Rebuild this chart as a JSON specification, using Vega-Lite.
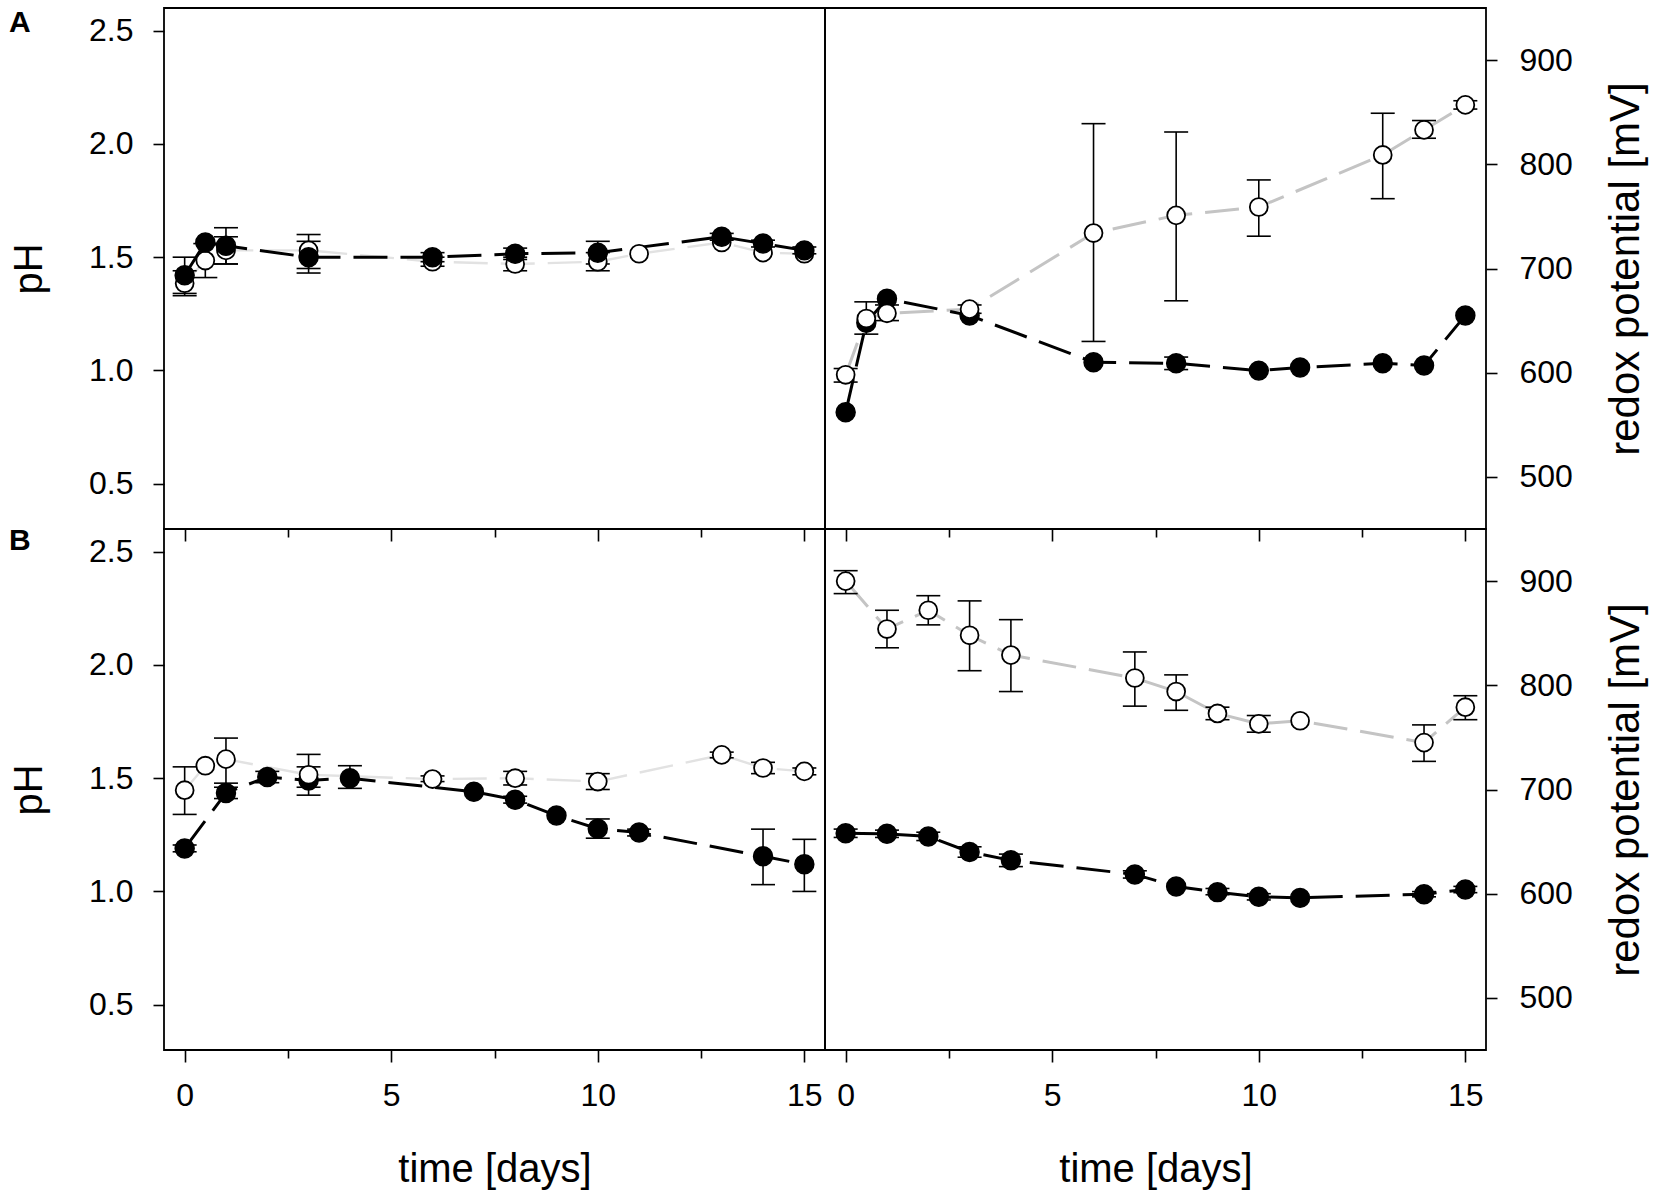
{
  "$schema": "https://vega.github.io/schema/vega-lite/v6.json",
  "background": "white",
  "padding": {"left": 8, "top": 7, "right": 5, "bottom": 5},
  "config": {
    "view": {"stroke": "black", "strokeWidth": 1.8},
    "font": "Liberation Sans",
    "axis": {
      "grid": false, "domain": false,
      "labelFont": "Liberation Sans", "labelFontSize": 32, "labelColor": "black",
      "titleFont": "Liberation Sans", "titleFontSize": 40, "titleFontWeight": "normal", "titleColor": "black",
      "tickColor": "black", "tickWidth": 1.6
    }
  },
  "datasets": {
    "obs": [
      {"p": "A", "m": "pH", "s": "filled", "day": 0, "v": 1.42, "lo": 1.34, "hi": 1.5},
      {"p": "A", "m": "pH", "s": "filled", "day": 0.5, "v": 1.565, "lo": null, "hi": null},
      {"p": "A", "m": "pH", "s": "filled", "day": 1, "v": 1.55, "lo": 1.47, "hi": 1.63},
      {"p": "A", "m": "pH", "s": "filled", "day": 3, "v": 1.5, "lo": 1.43, "hi": 1.57},
      {"p": "A", "m": "pH", "s": "filled", "day": 6, "v": 1.5, "lo": 1.48, "hi": 1.52},
      {"p": "A", "m": "pH", "s": "filled", "day": 8, "v": 1.515, "lo": 1.49, "hi": 1.54},
      {"p": "A", "m": "pH", "s": "filled", "day": 10, "v": 1.52, "lo": 1.47, "hi": 1.57},
      {"p": "A", "m": "pH", "s": "filled", "day": 13, "v": 1.59, "lo": 1.575, "hi": 1.605},
      {"p": "A", "m": "pH", "s": "filled", "day": 14, "v": 1.56, "lo": 1.545, "hi": 1.575},
      {"p": "A", "m": "pH", "s": "filled", "day": 15, "v": 1.53, "lo": 1.515, "hi": 1.545},
      {"p": "A", "m": "pH", "s": "open", "day": 0, "v": 1.385, "lo": 1.33, "hi": 1.44},
      {"p": "A", "m": "pH", "s": "open", "day": 0.5, "v": 1.485, "lo": 1.41, "hi": 1.56},
      {"p": "A", "m": "pH", "s": "open", "day": 1, "v": 1.53, "lo": 1.47, "hi": 1.59},
      {"p": "A", "m": "pH", "s": "open", "day": 3, "v": 1.53, "lo": 1.45, "hi": 1.6},
      {"p": "A", "m": "pH", "s": "open", "day": 6, "v": 1.48, "lo": 1.46, "hi": 1.5},
      {"p": "A", "m": "pH", "s": "open", "day": 8, "v": 1.47, "lo": 1.44, "hi": 1.5},
      {"p": "A", "m": "pH", "s": "open", "day": 10, "v": 1.48, "lo": 1.44, "hi": 1.52},
      {"p": "A", "m": "pH", "s": "open", "day": 11, "v": 1.515, "lo": null, "hi": null},
      {"p": "A", "m": "pH", "s": "open", "day": 13, "v": 1.565, "lo": null, "hi": null},
      {"p": "A", "m": "pH", "s": "open", "day": 14, "v": 1.52, "lo": null, "hi": null},
      {"p": "A", "m": "pH", "s": "open", "day": 15, "v": 1.515, "lo": null, "hi": null},

      {"p": "A", "m": "redox", "s": "filled", "day": 0, "v": 562, "lo": null, "hi": null},
      {"p": "A", "m": "redox", "s": "filled", "day": 0.5, "v": 648, "lo": null, "hi": null},
      {"p": "A", "m": "redox", "s": "filled", "day": 1, "v": 671, "lo": null, "hi": null},
      {"p": "A", "m": "redox", "s": "filled", "day": 3, "v": 655, "lo": null, "hi": null},
      {"p": "A", "m": "redox", "s": "filled", "day": 6, "v": 610, "lo": null, "hi": null},
      {"p": "A", "m": "redox", "s": "filled", "day": 8, "v": 609, "lo": 603, "hi": 615},
      {"p": "A", "m": "redox", "s": "filled", "day": 10, "v": 602, "lo": null, "hi": null},
      {"p": "A", "m": "redox", "s": "filled", "day": 11, "v": 605, "lo": null, "hi": null},
      {"p": "A", "m": "redox", "s": "filled", "day": 13, "v": 609, "lo": null, "hi": null},
      {"p": "A", "m": "redox", "s": "filled", "day": 14, "v": 607, "lo": null, "hi": null},
      {"p": "A", "m": "redox", "s": "filled", "day": 15, "v": 655, "lo": null, "hi": null},
      {"p": "A", "m": "redox", "s": "open", "day": 0, "v": 598, "lo": 591, "hi": 604},
      {"p": "A", "m": "redox", "s": "open", "day": 0.5, "v": 652, "lo": 637, "hi": 668},
      {"p": "A", "m": "redox", "s": "open", "day": 1, "v": 657, "lo": 650, "hi": 665},
      {"p": "A", "m": "redox", "s": "open", "day": 3, "v": 661, "lo": 657, "hi": 665},
      {"p": "A", "m": "redox", "s": "open", "day": 6, "v": 734, "lo": 630, "hi": 839},
      {"p": "A", "m": "redox", "s": "open", "day": 8, "v": 751, "lo": 669, "hi": 831},
      {"p": "A", "m": "redox", "s": "open", "day": 10, "v": 759, "lo": 731, "hi": 785},
      {"p": "A", "m": "redox", "s": "open", "day": 13, "v": 809, "lo": 767, "hi": 849},
      {"p": "A", "m": "redox", "s": "open", "day": 14, "v": 833, "lo": 825, "hi": 842},
      {"p": "A", "m": "redox", "s": "open", "day": 15, "v": 857, "lo": 853, "hi": 861},

      {"p": "B", "m": "pH", "s": "filled", "day": 0, "v": 1.19, "lo": 1.175, "hi": 1.205},
      {"p": "B", "m": "pH", "s": "filled", "day": 1, "v": 1.435, "lo": 1.41, "hi": 1.46},
      {"p": "B", "m": "pH", "s": "filled", "day": 2, "v": 1.505, "lo": 1.48, "hi": 1.53},
      {"p": "B", "m": "pH", "s": "filled", "day": 3, "v": 1.49, "lo": 1.425, "hi": 1.55},
      {"p": "B", "m": "pH", "s": "filled", "day": 4, "v": 1.5, "lo": 1.455, "hi": 1.555},
      {"p": "B", "m": "pH", "s": "filled", "day": 7, "v": 1.44, "lo": null, "hi": null},
      {"p": "B", "m": "pH", "s": "filled", "day": 8, "v": 1.405, "lo": 1.39, "hi": 1.42},
      {"p": "B", "m": "pH", "s": "filled", "day": 9, "v": 1.335, "lo": null, "hi": null},
      {"p": "B", "m": "pH", "s": "filled", "day": 10, "v": 1.277, "lo": 1.235, "hi": 1.32},
      {"p": "B", "m": "pH", "s": "filled", "day": 11, "v": 1.26, "lo": 1.245, "hi": 1.275},
      {"p": "B", "m": "pH", "s": "filled", "day": 14, "v": 1.155, "lo": 1.03, "hi": 1.275},
      {"p": "B", "m": "pH", "s": "filled", "day": 15, "v": 1.12, "lo": 1.0, "hi": 1.23},
      {"p": "B", "m": "pH", "s": "open", "day": 0, "v": 1.447, "lo": 1.34, "hi": 1.55},
      {"p": "B", "m": "pH", "s": "open", "day": 0.5, "v": 1.555, "lo": null, "hi": null},
      {"p": "B", "m": "pH", "s": "open", "day": 1, "v": 1.584, "lo": 1.478, "hi": 1.677},
      {"p": "B", "m": "pH", "s": "open", "day": 3, "v": 1.515, "lo": 1.46, "hi": 1.605},
      {"p": "B", "m": "pH", "s": "open", "day": 6, "v": 1.496, "lo": 1.485, "hi": 1.51},
      {"p": "B", "m": "pH", "s": "open", "day": 8, "v": 1.5, "lo": 1.47, "hi": 1.53},
      {"p": "B", "m": "pH", "s": "open", "day": 10, "v": 1.485, "lo": 1.45, "hi": 1.52},
      {"p": "B", "m": "pH", "s": "open", "day": 13, "v": 1.603, "lo": 1.59, "hi": 1.615},
      {"p": "B", "m": "pH", "s": "open", "day": 14, "v": 1.545, "lo": 1.52, "hi": 1.57},
      {"p": "B", "m": "pH", "s": "open", "day": 15, "v": 1.53, "lo": 1.515, "hi": 1.545},

      {"p": "B", "m": "redox", "s": "filled", "day": 0, "v": 658, "lo": 654, "hi": 662},
      {"p": "B", "m": "redox", "s": "filled", "day": 1, "v": 657.5, "lo": 654, "hi": 661},
      {"p": "B", "m": "redox", "s": "filled", "day": 2, "v": 655, "lo": 651, "hi": 659},
      {"p": "B", "m": "redox", "s": "filled", "day": 3, "v": 640, "lo": 635, "hi": 645},
      {"p": "B", "m": "redox", "s": "filled", "day": 4, "v": 632, "lo": 626, "hi": 638},
      {"p": "B", "m": "redox", "s": "filled", "day": 7, "v": 618.5, "lo": 615, "hi": 622},
      {"p": "B", "m": "redox", "s": "filled", "day": 8, "v": 607, "lo": null, "hi": null},
      {"p": "B", "m": "redox", "s": "filled", "day": 9, "v": 601.5, "lo": 599, "hi": 605},
      {"p": "B", "m": "redox", "s": "filled", "day": 10, "v": 597, "lo": 594, "hi": 600},
      {"p": "B", "m": "redox", "s": "filled", "day": 11, "v": 596, "lo": null, "hi": null},
      {"p": "B", "m": "redox", "s": "filled", "day": 14, "v": 599.5, "lo": 597, "hi": 602},
      {"p": "B", "m": "redox", "s": "filled", "day": 15, "v": 604, "lo": 601, "hi": 607},
      {"p": "B", "m": "redox", "s": "open", "day": 0, "v": 900, "lo": 888, "hi": 910},
      {"p": "B", "m": "redox", "s": "open", "day": 1, "v": 854, "lo": 836, "hi": 872},
      {"p": "B", "m": "redox", "s": "open", "day": 2, "v": 872, "lo": 858, "hi": 886},
      {"p": "B", "m": "redox", "s": "open", "day": 3, "v": 848, "lo": 814, "hi": 881},
      {"p": "B", "m": "redox", "s": "open", "day": 4, "v": 829, "lo": 794, "hi": 863},
      {"p": "B", "m": "redox", "s": "open", "day": 7, "v": 807, "lo": 780, "hi": 832},
      {"p": "B", "m": "redox", "s": "open", "day": 8, "v": 794, "lo": 776, "hi": 810},
      {"p": "B", "m": "redox", "s": "open", "day": 9, "v": 773, "lo": 767, "hi": 779},
      {"p": "B", "m": "redox", "s": "open", "day": 10, "v": 763, "lo": 755, "hi": 771},
      {"p": "B", "m": "redox", "s": "open", "day": 11, "v": 766, "lo": null, "hi": null},
      {"p": "B", "m": "redox", "s": "open", "day": 14, "v": 745, "lo": 727, "hi": 762},
      {"p": "B", "m": "redox", "s": "open", "day": 15, "v": 779, "lo": 767, "hi": 790}
    ]
  },
  "columns": 2,
  "spacing": 0,
  "bounds": "flush",
  "concat": [
    {
      "width": 661, "height": 521,
      "data": {"name": "obs"},
      "title": {"text": "A", "orient": "top", "anchor": "start", "frame": "group", "dx": -155, "dy": 54, "offset": 0, "baseline": "alphabetic", "font": "Liberation Sans", "fontSize": 30, "fontWeight": "bold", "color": "black"},
      "transform": [{"filter": "datum.p == 'A' && datum.m == 'pH'"}],
      "resolve": {"axis": {"x": "independent"}},
      "layer": [
        {
          "transform": [{"filter": "datum.s == 'open'"}],
          "mark": {"type": "line", "color": "#e2e2e2", "strokeWidth": 2.4, "strokeDash": [34, 13]},
          "encoding": {
            "x": {"field": "day", "type": "quantitative", "scale": {"domain": [-0.5, 15.5], "nice": false, "zero": false},
                  "axis": {"orient": "bottom", "values": [0, 5, 10, 15], "labels": false, "tickSize": 12, "title": null}},
            "y": {"field": "v", "type": "quantitative", "scale": {"domain": [0.3, 2.6], "nice": false, "zero": false},
                  "axis": {"values": [0.5, 1, 1.5, 2, 2.5], "format": ".1f", "tickSize": 11, "labelPadding": 20, "title": "pH", "titlePadding": 39}}
          }
        },
        {
          "transform": [{"filter": "datum.s == 'filled'"}],
          "mark": {"type": "line", "color": "black", "strokeWidth": 3, "strokeDash": [34, 13]},
          "encoding": {
            "x": {"field": "day", "type": "quantitative", "axis": {"orient": "bottom", "values": [2.5, 7.5, 12.5], "labels": false, "tickSize": 8, "title": null}},
            "y": {"field": "v", "type": "quantitative"}
          }
        },
        {
          "mark": {"type": "rule", "color": "black", "strokeWidth": 1.6},
          "encoding": {
            "x": {"field": "day", "type": "quantitative", "axis": null},
            "y": {"field": "lo", "type": "quantitative"},
            "y2": {"field": "hi"}
          }
        },
        {
          "mark": {"type": "tick", "orient": "horizontal", "color": "black", "size": 24, "thickness": 1.6, "opacity": 1},
          "encoding": {
            "x": {"field": "day", "type": "quantitative", "axis": null},
            "y": {"field": "lo", "type": "quantitative"}
          }
        },
        {
          "mark": {"type": "tick", "orient": "horizontal", "color": "black", "size": 24, "thickness": 1.6, "opacity": 1},
          "encoding": {
            "x": {"field": "day", "type": "quantitative", "axis": null},
            "y": {"field": "hi", "type": "quantitative"}
          }
        },
        {
          "transform": [{"filter": "datum.s == 'open'"}],
          "mark": {"type": "circle", "fill": "white", "stroke": "black", "strokeWidth": 1.8, "size": 320, "opacity": 1},
          "encoding": {
            "x": {"field": "day", "type": "quantitative", "axis": null},
            "y": {"field": "v", "type": "quantitative"}
          }
        },
        {
          "transform": [{"filter": "datum.s == 'filled'"}],
          "mark": {"type": "circle", "fill": "black", "stroke": "black", "strokeWidth": 1.5, "size": 360, "opacity": 1},
          "encoding": {
            "x": {"field": "day", "type": "quantitative", "axis": null},
            "y": {"field": "v", "type": "quantitative"}
          }
        }
      ]
    },
    {
      "width": 661, "height": 521,
      "data": {"name": "obs"},
      "transform": [{"filter": "datum.p == 'A' && datum.m == 'redox'"}],
      "resolve": {"axis": {"x": "independent"}},
      "layer": [
        {
          "transform": [{"filter": "datum.s == 'open'"}],
          "mark": {"type": "line", "color": "#c4c4c4", "strokeWidth": 3, "strokeDash": [34, 13]},
          "encoding": {
            "x": {"field": "day", "type": "quantitative", "scale": {"domain": [-0.5, 15.5], "nice": false, "zero": false},
                  "axis": {"orient": "bottom", "values": [0, 5, 10, 15], "labels": false, "tickSize": 12, "title": null}},
            "y": {"field": "v", "type": "quantitative", "scale": {"domain": [450, 950], "nice": false, "zero": false},
                  "axis": {"orient": "right", "values": [500, 600, 700, 800, 900], "tickSize": 11, "labelPadding": 22, "title": "redox potential [mV]", "titleFontSize": 42, "titlePadding": 33, "titleAngle": 270, "titleBaseline": "top"}}
          }
        },
        {
          "transform": [{"filter": "datum.s == 'filled'"}],
          "mark": {"type": "line", "color": "black", "strokeWidth": 3, "strokeDash": [34, 13]},
          "encoding": {
            "x": {"field": "day", "type": "quantitative", "axis": {"orient": "bottom", "values": [2.5, 7.5, 12.5], "labels": false, "tickSize": 8, "title": null}},
            "y": {"field": "v", "type": "quantitative"}
          }
        },
        {
          "mark": {"type": "rule", "color": "black", "strokeWidth": 1.6},
          "encoding": {
            "x": {"field": "day", "type": "quantitative", "axis": null},
            "y": {"field": "lo", "type": "quantitative"},
            "y2": {"field": "hi"}
          }
        },
        {
          "mark": {"type": "tick", "orient": "horizontal", "color": "black", "size": 24, "thickness": 1.6, "opacity": 1},
          "encoding": {
            "x": {"field": "day", "type": "quantitative", "axis": null},
            "y": {"field": "lo", "type": "quantitative"}
          }
        },
        {
          "mark": {"type": "tick", "orient": "horizontal", "color": "black", "size": 24, "thickness": 1.6, "opacity": 1},
          "encoding": {
            "x": {"field": "day", "type": "quantitative", "axis": null},
            "y": {"field": "hi", "type": "quantitative"}
          }
        },
        {
          "transform": [{"filter": "datum.s == 'filled'"}],
          "mark": {"type": "circle", "fill": "black", "stroke": "black", "strokeWidth": 1.5, "size": 360, "opacity": 1},
          "encoding": {
            "x": {"field": "day", "type": "quantitative", "axis": null},
            "y": {"field": "v", "type": "quantitative"}
          }
        },
        {
          "transform": [{"filter": "datum.s == 'open'"}],
          "mark": {"type": "circle", "fill": "white", "stroke": "black", "strokeWidth": 1.8, "size": 320, "opacity": 1},
          "encoding": {
            "x": {"field": "day", "type": "quantitative", "axis": null},
            "y": {"field": "v", "type": "quantitative"}
          }
        }
      ]
    },
    {
      "width": 661, "height": 521,
      "data": {"name": "obs"},
      "title": {"text": "B", "orient": "top", "anchor": "start", "frame": "group", "dx": -155, "dy": 51, "offset": 0, "baseline": "alphabetic", "font": "Liberation Sans", "fontSize": 30, "fontWeight": "bold", "color": "black"},
      "transform": [{"filter": "datum.p == 'B' && datum.m == 'pH'"}],
      "resolve": {"axis": {"x": "independent"}},
      "layer": [
        {
          "transform": [{"filter": "datum.s == 'open'"}],
          "mark": {"type": "line", "color": "#e2e2e2", "strokeWidth": 2.4, "strokeDash": [34, 13]},
          "encoding": {
            "x": {"field": "day", "type": "quantitative", "scale": {"domain": [-0.5, 15.5], "nice": false, "zero": false},
                  "axis": {"orient": "bottom", "values": [0, 5, 10, 15], "tickSize": 12, "labelPadding": 18, "title": "time [days]", "titlePadding": 38}},
            "y": {"field": "v", "type": "quantitative", "scale": {"domain": [0.3, 2.6], "nice": false, "zero": false},
                  "axis": {"values": [0.5, 1, 1.5, 2, 2.5], "format": ".1f", "tickSize": 11, "labelPadding": 20, "title": "pH", "titlePadding": 39}}
          }
        },
        {
          "transform": [{"filter": "datum.s == 'filled'"}],
          "mark": {"type": "line", "color": "black", "strokeWidth": 3, "strokeDash": [34, 13]},
          "encoding": {
            "x": {"field": "day", "type": "quantitative", "axis": {"orient": "bottom", "values": [2.5, 7.5, 12.5], "labels": false, "tickSize": 8, "title": null}},
            "y": {"field": "v", "type": "quantitative"}
          }
        },
        {
          "mark": {"type": "rule", "color": "black", "strokeWidth": 1.6},
          "encoding": {
            "x": {"field": "day", "type": "quantitative", "axis": null},
            "y": {"field": "lo", "type": "quantitative"},
            "y2": {"field": "hi"}
          }
        },
        {
          "mark": {"type": "tick", "orient": "horizontal", "color": "black", "size": 24, "thickness": 1.6, "opacity": 1},
          "encoding": {
            "x": {"field": "day", "type": "quantitative", "axis": null},
            "y": {"field": "lo", "type": "quantitative"}
          }
        },
        {
          "mark": {"type": "tick", "orient": "horizontal", "color": "black", "size": 24, "thickness": 1.6, "opacity": 1},
          "encoding": {
            "x": {"field": "day", "type": "quantitative", "axis": null},
            "y": {"field": "hi", "type": "quantitative"}
          }
        },
        {
          "transform": [{"filter": "datum.s == 'filled'"}],
          "mark": {"type": "circle", "fill": "black", "stroke": "black", "strokeWidth": 1.5, "size": 360, "opacity": 1},
          "encoding": {
            "x": {"field": "day", "type": "quantitative", "axis": null},
            "y": {"field": "v", "type": "quantitative"}
          }
        },
        {
          "transform": [{"filter": "datum.s == 'open'"}],
          "mark": {"type": "circle", "fill": "white", "stroke": "black", "strokeWidth": 1.8, "size": 320, "opacity": 1},
          "encoding": {
            "x": {"field": "day", "type": "quantitative", "axis": null},
            "y": {"field": "v", "type": "quantitative"}
          }
        }
      ]
    },
    {
      "width": 661, "height": 521,
      "data": {"name": "obs"},
      "transform": [{"filter": "datum.p == 'B' && datum.m == 'redox'"}],
      "resolve": {"axis": {"x": "independent"}},
      "layer": [
        {
          "transform": [{"filter": "datum.s == 'open'"}],
          "mark": {"type": "line", "color": "#c4c4c4", "strokeWidth": 3, "strokeDash": [34, 13]},
          "encoding": {
            "x": {"field": "day", "type": "quantitative", "scale": {"domain": [-0.5, 15.5], "nice": false, "zero": false},
                  "axis": {"orient": "bottom", "values": [0, 5, 10, 15], "tickSize": 12, "labelPadding": 18, "title": "time [days]", "titlePadding": 38}},
            "y": {"field": "v", "type": "quantitative", "scale": {"domain": [450, 950], "nice": false, "zero": false},
                  "axis": {"orient": "right", "values": [500, 600, 700, 800, 900], "tickSize": 11, "labelPadding": 22, "title": "redox potential [mV]", "titleFontSize": 42, "titlePadding": 33, "titleAngle": 270, "titleBaseline": "top"}}
          }
        },
        {
          "transform": [{"filter": "datum.s == 'filled'"}],
          "mark": {"type": "line", "color": "black", "strokeWidth": 3, "strokeDash": [34, 13]},
          "encoding": {
            "x": {"field": "day", "type": "quantitative", "axis": {"orient": "bottom", "values": [2.5, 7.5, 12.5], "labels": false, "tickSize": 8, "title": null}},
            "y": {"field": "v", "type": "quantitative"}
          }
        },
        {
          "mark": {"type": "rule", "color": "black", "strokeWidth": 1.6},
          "encoding": {
            "x": {"field": "day", "type": "quantitative", "axis": null},
            "y": {"field": "lo", "type": "quantitative"},
            "y2": {"field": "hi"}
          }
        },
        {
          "mark": {"type": "tick", "orient": "horizontal", "color": "black", "size": 24, "thickness": 1.6, "opacity": 1},
          "encoding": {
            "x": {"field": "day", "type": "quantitative", "axis": null},
            "y": {"field": "lo", "type": "quantitative"}
          }
        },
        {
          "mark": {"type": "tick", "orient": "horizontal", "color": "black", "size": 24, "thickness": 1.6, "opacity": 1},
          "encoding": {
            "x": {"field": "day", "type": "quantitative", "axis": null},
            "y": {"field": "hi", "type": "quantitative"}
          }
        },
        {
          "transform": [{"filter": "datum.s == 'filled'"}],
          "mark": {"type": "circle", "fill": "black", "stroke": "black", "strokeWidth": 1.5, "size": 360, "opacity": 1},
          "encoding": {
            "x": {"field": "day", "type": "quantitative", "axis": null},
            "y": {"field": "v", "type": "quantitative"}
          }
        },
        {
          "transform": [{"filter": "datum.s == 'open'"}],
          "mark": {"type": "circle", "fill": "white", "stroke": "black", "strokeWidth": 1.8, "size": 320, "opacity": 1},
          "encoding": {
            "x": {"field": "day", "type": "quantitative", "axis": null},
            "y": {"field": "v", "type": "quantitative"}
          }
        }
      ]
    }
  ]
}
